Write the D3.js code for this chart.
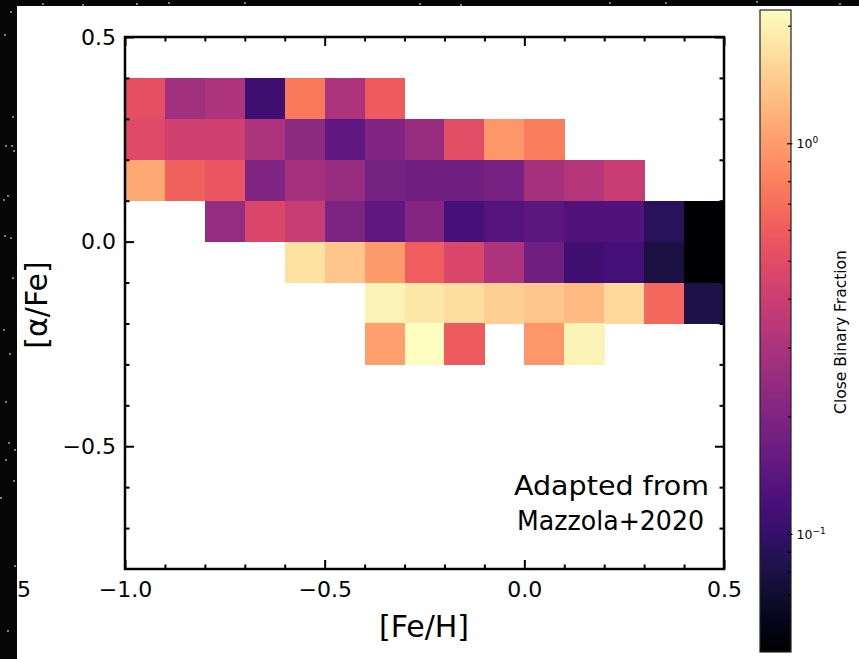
<!DOCTYPE html>
<html>
<head>
<meta charset="utf-8">
<script src="https://cdn.jsdelivr.net/npm/d3@7"></script>
<style>
  html, body { margin: 0; padding: 0; background: #000; }
  svg { display: block; font-family: "DejaVu Sans", sans-serif; }
</style>
</head>
<body>
<svg id="chart" width="859" height="659"></svg>
<script>
// Bin left edges in [Fe/H] (columns) and [alpha/Fe] (rows), bin width 0.1 dex
const feH = [-1.0, -0.9, -0.8, -0.7, -0.6, -0.5, -0.4, -0.3, -0.2, -0.1, 0.0, 0.1, 0.2, 0.3, 0.4];
const alphaFe = [0.3, 0.2, 0.1, 0.0, -0.1, -0.2, -0.3];

// Close binary fraction per bin, one array per [alpha/Fe] row (null = empty bin)
const fracAlpha030 = [0.522, 0.274, 0.308, 0.111, 0.762, 0.308, 0.585, null, null, null, null, null, null, null, null];
const fracAlpha020 = [0.484, 0.416, 0.416, 0.308, 0.227, 0.150, 0.203, 0.254, 0.502, 0.957, 0.791, null, null, null, null];
const fracAlpha010 = [1.11, 0.631, 0.563, 0.203, 0.285, 0.254, 0.181, 0.174, 0.174, 0.185, 0.285, 0.331, 0.386, null, null];
const fracAlpha000 = [null, null, 0.245, 0.466, 0.386, 0.195, 0.150, 0.210, 0.119, 0.134, 0.144, 0.129, 0.129, 0.0917, 0.05];
const fracAlphaM010 = [null, null, null, null, 1.75, 1.40, 0.993, 0.607, 0.466, 0.308, 0.174, 0.111, 0.115, 0.0787, 0.05];
const fracAlphaM020 = [null, null, null, null, null, null, 2.04, 1.82, 1.69, 1.51, 1.40, 1.29, 1.62, 0.655, 0.0818];
const fracAlphaM030 = [null, null, null, null, null, null, 1.03, 2.2, 0.585, null, 0.957, 2.04, null, null, null];
const fracRows = [fracAlpha030, fracAlpha020, fracAlpha010, fracAlpha000, fracAlphaM010, fracAlphaM020, fracAlphaM030];

// Axis ticks and colour range
const xMajor = [-1.0, -0.5, 0.0, 0.5];
const yMajor = [0.5, 0.0, -0.5];
const colorRange = [0.05, 2.2];
const cbarMajor = [0.1, 1];
const cbarMinor = [0.06, 0.07, 0.08, 0.09, 0.2, 0.3, 0.4, 0.5, 0.6, 0.7, 0.8, 0.9, 2];

// Stars on the dark backdrop strips
const stars = [[11,12],[5,35],[13,117],[6,146],[12,146],[14,151],[4,200],[8,196],[5,236],[11,238],[13,278],[4,330],[10,354],[6,402],[9,443],[15,450],[6,460],[14,481],[1,498],[15,566],[8,631],[43,4],[83,5],[137,4],[169,3],[245,3],[420,4],[461,5],[610,3],[666,3],[757,2],[840,4]];

const svg = d3.select("#chart");
const W = 859, H = 659;

// dark backdrop with a white panel
svg.append("rect").attr("width", W).attr("height", H).attr("fill", "#060606");
svg.append("g").selectAll("circle").data(stars).join("circle")
  .attr("cx", d => d[0]).attr("cy", d => d[1]).attr("r", 0.9).attr("fill", "#bbbbbb");

svg.append("rect").attr("x", 17).attr("y", 6).attr("width", W - 17).attr("height", H - 6).attr("fill", "#ffffff");

// stray tick digit at the panel edge
svg.append("text").attr("x", 17).attr("y", 597).attr("text-anchor", "start")
  .attr("font-size", 22).text("5");

// main axes
const plot = { left: 125, right: 724, top: 37, bottom: 569 };
const x = d3.scaleLinear().domain([-1.0, 0.5]).range([plot.left, plot.right]);
const y = d3.scaleLinear().domain([-0.8, 0.5]).range([plot.bottom, plot.top]);
const color = d3.scaleSequentialLog(d3.interpolateMagma).domain(colorRange).clamp(true);
const binW = 0.1;

const cells = [];
fracRows.forEach((row, ri) => {
  row.forEach((v, ci) => {
    if (v != null) cells.push({ fe: feH[ci], al: alphaFe[ri], v });
  });
});

svg.append("g").selectAll("rect").data(cells).join("rect")
  .attr("x", d => x(d.fe))
  .attr("y", d => y(d.al + binW))
  .attr("width", d => x(d.fe + binW) - x(d.fe) + 0.5)
  .attr("height", d => y(d.al) - y(d.al + binW) + 0.5)
  .attr("fill", d => color(d.v))
  .attr("shape-rendering", "crispEdges");

const xMinor = d3.range(-9, 5).map(i => i / 10).filter(v => !xMajor.some(m => Math.abs(m - v) < 1e-9));
const yMinor = d3.range(-7, 5).map(i => i / 10).filter(v => !yMajor.some(m => Math.abs(m - v) < 1e-9));
const fmt = d3.format(".1f");

function styleAxis(g) {
  g.select(".domain").remove();
  g.selectAll(".tick line").attr("stroke", "#000").attr("stroke-width", 2);
  g.selectAll("text").attr("font-size", 22).attr("fill", "#000").attr("font-family", "DejaVu Sans");
}

// bottom
svg.append("g").attr("transform", `translate(0,${plot.bottom})`)
  .call(d3.axisBottom(x).tickValues(xMajor).tickFormat(fmt).tickSizeInner(-9).tickSizeOuter(0).tickPadding(12))
  .call(styleAxis);
svg.append("g").attr("transform", `translate(0,${plot.bottom})`)
  .call(d3.axisBottom(x).tickValues(xMinor).tickFormat("").tickSizeInner(-4.5).tickSizeOuter(0))
  .call(styleAxis);
// top
svg.append("g").attr("transform", `translate(0,${plot.top})`)
  .call(d3.axisTop(x).tickValues(xMajor).tickFormat("").tickSizeInner(-9).tickSizeOuter(0))
  .call(styleAxis);
svg.append("g").attr("transform", `translate(0,${plot.top})`)
  .call(d3.axisTop(x).tickValues(xMinor).tickFormat("").tickSizeInner(-4.5).tickSizeOuter(0))
  .call(styleAxis);
// left
svg.append("g").attr("transform", `translate(${plot.left},0)`)
  .call(d3.axisLeft(y).tickValues(yMajor).tickFormat(fmt).tickSizeInner(-9).tickSizeOuter(0).tickPadding(9))
  .call(styleAxis);
svg.append("g").attr("transform", `translate(${plot.left},0)`)
  .call(d3.axisLeft(y).tickValues(yMinor).tickFormat("").tickSizeInner(-4.5).tickSizeOuter(0))
  .call(styleAxis);
// right
svg.append("g").attr("transform", `translate(${plot.right},0)`)
  .call(d3.axisRight(y).tickValues(yMajor).tickFormat("").tickSizeInner(-9).tickSizeOuter(0))
  .call(styleAxis);
svg.append("g").attr("transform", `translate(${plot.right},0)`)
  .call(d3.axisRight(y).tickValues(yMinor).tickFormat("").tickSizeInner(-4.5).tickSizeOuter(0))
  .call(styleAxis);

// frame
svg.append("rect")
  .attr("x", plot.left).attr("y", plot.top)
  .attr("width", plot.right - plot.left).attr("height", plot.bottom - plot.top)
  .attr("fill", "none").attr("stroke", "#000").attr("stroke-width", 2.5);

// axis titles
svg.append("text").attr("x", 424).attr("y", 637).attr("text-anchor", "middle")
  .attr("font-size", 30).text("[Fe/H]");
svg.append("text").attr("transform", "translate(47,305) rotate(-90)").attr("text-anchor", "middle")
  .attr("font-size", 30).text("[α/Fe]");

// annotation
const note = svg.append("text").attr("font-size", 27);
note.append("tspan").attr("x", 514).attr("y", 495)
  .attr("textLength", 195).attr("lengthAdjust", "spacingAndGlyphs").text("Adapted from");
note.append("tspan").attr("x", 517).attr("y", 530)
  .attr("textLength", 187).attr("lengthAdjust", "spacingAndGlyphs").text("Mazzola+2020");

// colour bar
const cb = { x: 760, w: 31, top: 10, bottom: 652 };
const cy = d3.scaleLog().domain(colorRange).range([cb.bottom, cb.top]);
const grad = svg.append("defs").append("linearGradient")
  .attr("id", "cbgrad").attr("x1", 0).attr("y1", 1).attr("x2", 0).attr("y2", 0);
d3.range(0, 101).forEach(i => {
  grad.append("stop").attr("offset", `${i}%`).attr("stop-color", d3.interpolateMagma(i / 100));
});
svg.append("rect").attr("x", cb.x).attr("y", cb.top).attr("width", cb.w).attr("height", cb.bottom - cb.top)
  .attr("fill", "url(#cbgrad)").attr("stroke", "#222").attr("stroke-width", 1.2);

const cbG = svg.append("g").attr("transform", `translate(${cb.x + cb.w},0)`);
cbG.selectAll("line.minor").data(cbarMinor).join("line")
  .attr("x1", -3).attr("x2", 0).attr("y1", d => cy(d)).attr("y2", d => cy(d))
  .attr("stroke", "#000").attr("stroke-width", 1.2);
cbG.selectAll("line.major").data(cbarMajor).join("line")
  .attr("x1", -4).attr("x2", 1.5).attr("y1", d => cy(d)).attr("y2", d => cy(d))
  .attr("stroke", "#000").attr("stroke-width", 1.2);
const cbLab = cbG.selectAll("text").data(cbarMajor).join("text")
  .attr("x", 5.5).attr("y", d => cy(d) + 4.5).attr("font-size", 12.5).attr("fill", "#000");
cbLab.append("tspan").text("10");
cbLab.append("tspan").attr("dy", -5).attr("font-size", 9).text(d => d === 1 ? "0" : "−1");

svg.append("text").attr("transform", "translate(846,332) rotate(-90)").attr("text-anchor", "middle")
  .attr("font-size", 15.5).text("Close Binary Fraction");
</script>
</body>
</html>
